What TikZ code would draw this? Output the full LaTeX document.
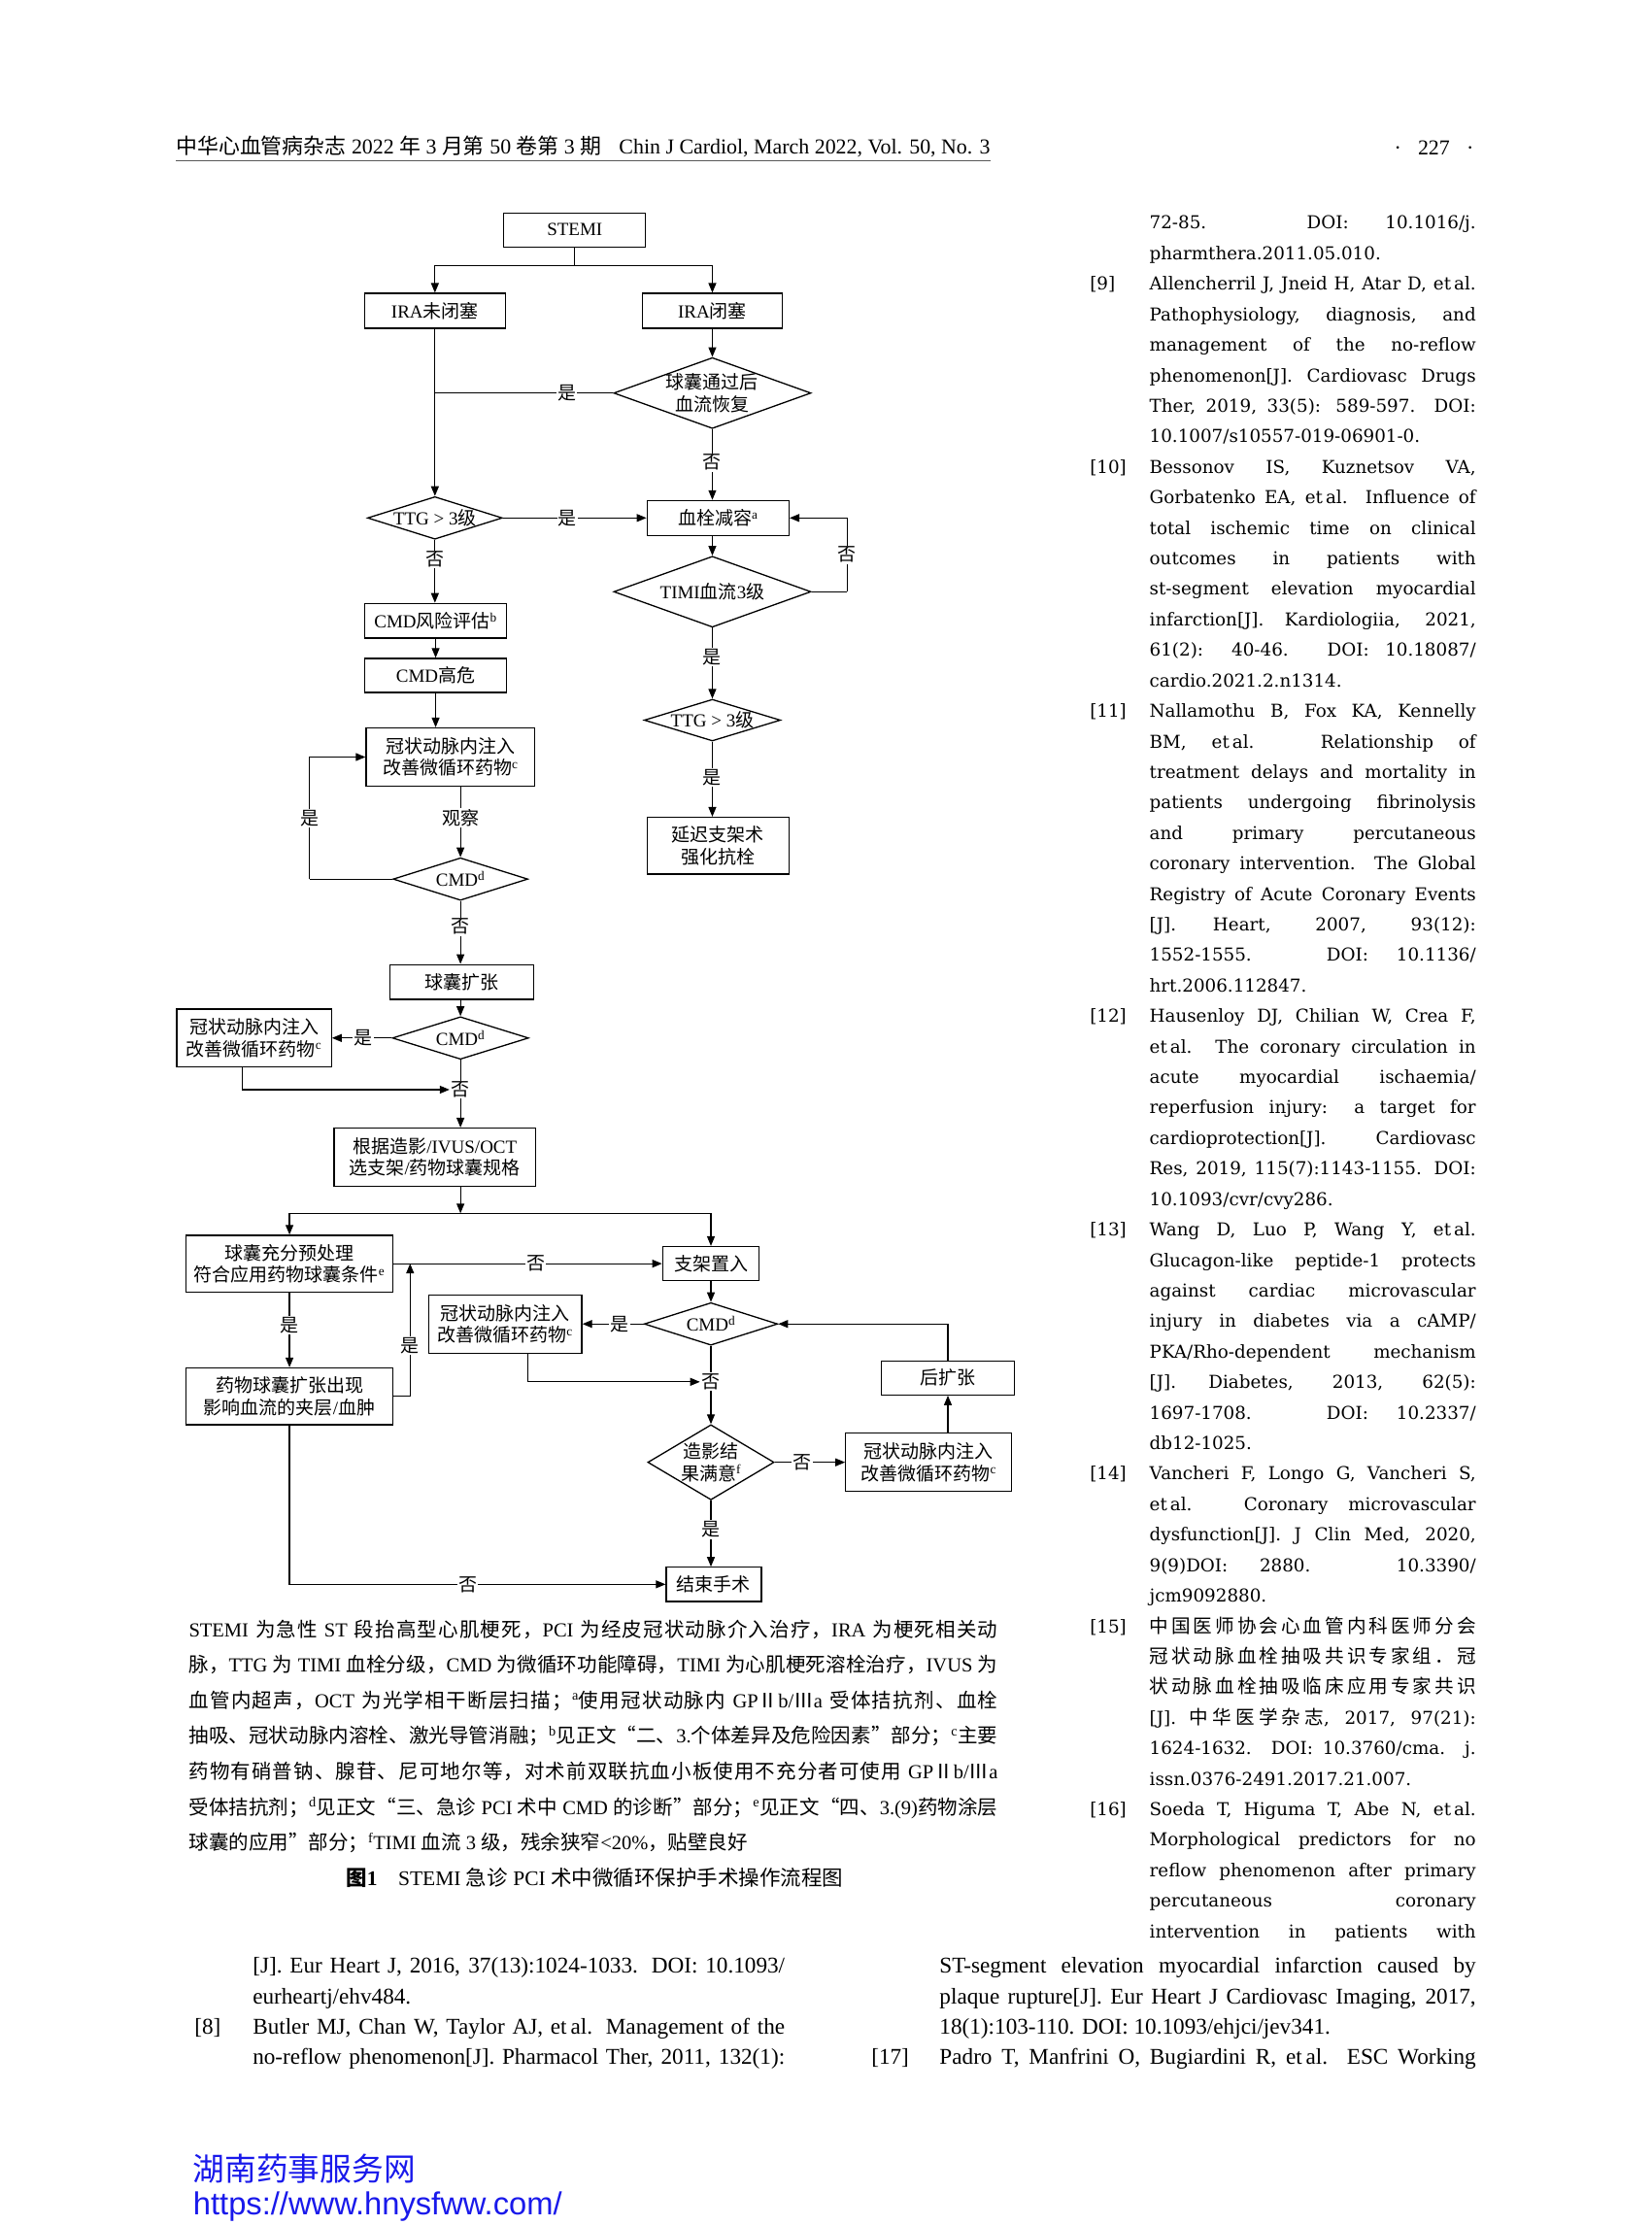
\documentclass[tikz,border=0pt]{standalone}
\usepackage{fontspec}
\setmainfont{Liberation Serif}
\newfontfamily\cjkf{Noto Sans CJK SC}
\newfontfamily\refsf{DejaVu Serif}
\newfontfamily\wmsans{Liberation Sans}
\usetikzlibrary{shapes.geometric,arrows.meta,calc}
\newlength\uu \setlength\uu{1.4613pt}
\def\latinsw{\rmfamily}
\def\cjksw{\cjkf}
\XeTeXinterchartokenstate=1
\chardef\cjkcls=23
\newcount\cc
\def\setcls#1#2{\cc=#1 \loop\XeTeXcharclass\cc=\cjkcls\relax\ifnum\cc<#2 \advance\cc by 1 \repeat}
\setcls{"4E00}{"9FFF}
\setcls{"3000}{"303F}
\setcls{"FF00}{"FFEF}
\setcls{"2160}{"217F}
\XeTeXcharclass"201C=\cjkcls
\XeTeXcharclass"201D=\cjkcls
\XeTeXinterchartoks 0 \cjkcls = {\cjksw}
\XeTeXinterchartoks 4095 \cjkcls = {\cjksw}
\XeTeXinterchartoks \cjkcls 0 = {\latinsw}
\XeTeXinterchartoks \cjkcls 4095 = {\latinsw}
\XeTeXinterchartoks \cjkcls \cjkcls = {\hskip0pt plus 1.5pt\relax}
\newcommand\sups[1]{\latinsw\textsuperscript{\latinsw #1}\latinsw}
\newcommand\ffont{\fontsize{19pt}{22.5pt}\selectfont}
\newcommand\capfont{\fontsize{20.5pt}{25pt}\selectfont}
\newcommand\hdfont{\fontsize{21.9pt}{26pt}\selectfont}
\newcommand\rfont{\def\latinsw{\refsf\fontsize{18.3pt}{21pt}\selectfont}\def\cjksw{\cjkf\fontsize{19.6pt}{21pt}\selectfont}\refsf\fontsize{18.3pt}{21pt}\selectfont}
\newcommand\btfont{\rmfamily\fontsize{23.2pt}{28pt}\selectfont}
\newcommand\wmfont{\fontsize{32.7pt}{36pt}\selectfont}
\definecolor{wmblue}{RGB}{25,25,235}
\tikzset{
  bx/.style={draw, line width=1.3pt, rectangle, inner sep=0pt, font=\ffont, align=center},
  sz/.style 2 args={minimum width=#1*\uu, minimum height=#2*\uu},
  dia/.style={draw, line width=1.3pt, diamond, inner sep=0pt},
  ftxt/.style={font=\ffont, align=center, inner sep=0pt},
  lab/.style={fill=white, inner sep=1.2pt, font=\ffont},
  ln/.style={line width=1.2pt},
  arr/.style={line width=1.2pt, -{Triangle[length=10pt,width=8pt]}},
  rtext/.style={anchor=base west, inner sep=0pt, font=\rfont},
  btext/.style={anchor=base west, inner sep=0pt, font=\btfont},
  ctext/.style={anchor=base west, inner sep=0pt, font=\capfont},
}
\newcommand\RJ[2]{\node[rtext] (rl#1) at (810,{161.5+21.5*#1}) {\makebox[230\uu][s]{#2}};}
\newcommand\RN[2]{\node[rtext] (rl#1) at (810,{161.5+21.5*#1}) {#2};}
\newcommand\RM[2]{\node[rtext] (rn#1) at (768,{161.5+21.5*#1}) {#2};}
\newcommand\CL[3]{\node[ctext] (cap#1) at (133,#2) {\makebox[570\uu][s]{#3}};}
\newcommand\gztxt{冠状动脉内注入\\改善微循环药物\sups{c}}
\begin{document}
\begin{tikzpicture}[x=\uu,y=-\uu]
\fill[white] (0,0) rectangle (1164,1568);
\useasboundingbox (0,0) rectangle (1164,1568);

% ---------- header ----------
\node[anchor=base west, inner sep=0pt, font=\hdfont] (hd1) at (124,108.5) {中华心血管病杂志 2022 年 3 月第 50 卷第 3 期};
\node[anchor=base east, inner sep=0pt, font=\hdfont] (hd2) at (698,108.5) {Chin J Cardiol, March 2022, Vol. 50, No. 3};
\draw[line width=1.3pt, black!65] (124,113.5) -- (698,113.5);
\node[anchor=base, inner sep=0pt, font=\hdfont] (pg) at (1010.5,109) {\makebox[56\uu][s]{\textperiodcentered\hfill 227\hfill\textperiodcentered}};

% ---------- flowchart ----------
\node[bx, sz={100}{24}] (stemi) at (405,162) {STEMI};
\node[bx, sz={99}{24.5}] (ira1) at (306.5,219) {IRA未闭塞};
\node[bx, sz={99}{24.5}] (ira2) at (502,219) {IRA闭塞};
\coordinate (j1) at (405,187);
\draw[ln] (stemi.south) -- (j1);
\draw[arr] (j1) -| (ira1.north);
\draw[arr] (j1) -| (ira2.north);

\node[dia, sz={139}{50}, label={[ftxt]center:{球囊通过后\\血流恢复}}] (d1) at (502,277) {};
\draw[arr] (ira2.south) -- (d1.north);
\node[dia, sz={95}{30}, label={[ftxt]center:{TTG > 3级}}] (t1) at (306.5,365) {};
\draw[arr] (ira1.south) -- (t1.north);
\draw[ln] (d1.west) -- (d1.west -| ira1.south) node[lab,pos=0.26] (l1) {是};

\node[bx, sz={100}{24.5}] (b1) at (506,365) {血栓减容\sups{a}};
\draw[arr] (t1.east) -- (t1.east -| b1.west) node[lab,pos=0.45] (l2) {是};
\draw[arr] (d1.south) -- (d1.south |- b1.north) node[lab,pos=0.47] (l3) {否};
\node[dia, sz={139}{50}, label={[ftxt]center:{TIMI血流3级}}] (d2) at (502,417) {};
\draw[arr] (b1.south -| d2.north) -- (d2.north);
\coordinate (lp) at (597,417);
\draw[ln] (d2.east) -- (lp);
\draw[arr] (lp) |- (b1.east) node[lab,pos=0.25] (l4) {否};
\node[dia, sz={96}{29.4}, label={[ftxt]center:{TTG > 3级}}] (t2) at (502,507.5) {};
\draw[arr] (d2.south) -- (t2.north) node[lab,pos=0.41] (l5) {是};
\node[bx, sz={100}{40}] (b2) at (506,596) {延迟支架术\\强化抗栓};
\draw[arr] (t2.south) -- (t2.south |- b2.north) node[lab,pos=0.48] (l6) {是};

\node[bx, sz={100}{24.5}] (c1) at (307,437.5) {CMD风险评估\sups{b}};
\draw[arr] (t1.south) -- (t1.south |- c1.north) node[lab,pos=0.31] (l7) {否};
\node[bx, sz={100}{24}] (c2) at (307,476) {CMD高危};
\draw[arr] (c1.south) -- (c2.north);
\node[bx, sz={119}{41}] (g1) at (317.5,533.5) {\gztxt};
\draw[arr] (c2.south) -- (c2.south |- g1.north);
\node[dia, sz={95}{30}, label={[ftxt]center:{CMD\sups{d}}}] (e1) at (324.5,619.5) {};
\draw[arr] (g1.south -| e1.north) -- (e1.north) node[lab,pos=0.44] (l8) {观察};
\coordinate (lq) at (218,619.5);
\draw[ln] (e1.west) -- (lq);
\draw[arr] (lq) |- (g1.west) node[lab,pos=0.25] (l9) {是};
\node[bx, sz={101}{24.5}] (q1) at (325.5,692) {球囊扩张};
\draw[arr] (e1.south) -- (e1.south |- q1.north) node[lab,pos=0.41] (l10) {否};
\node[dia, sz={96}{30}, label={[ftxt]center:{CMD\sups{d}}}] (e2) at (324.5,731.5) {};
\draw[arr] (e1.south |- q1.south) -- (e2.north);
\node[bx, sz={109}{41}] (g2) at (179,731.5) {\gztxt};
\draw[arr] (e2.west) -- (g2.east) node[lab,pos=0.48] (l11) {是};
\node[bx, sz={142}{41}] (r1) at (306.5,815.5) {根据造影/IVUS/OCT\\选支架/药物球囊规格};
\draw[arr] (e2.south) -- (e2.south |- r1.north) node[lab,pos=0.44] (l12) {否};
\draw[arr] ([xshift=-8.5*\uu]g2.south) |- (l12.west);

\coordinate (j2) at (324.5,855);
\draw[arr] (r1.south -| j2) -- (j2);
\node[bx, sz={145.5}{40}] (p1) at (204,890.5) {球囊充分预处理\\符合应用药物球囊条件\sups{e}};
\node[bx, sz={68}{24}] (s2) at (501,890.5) {支架置入};
\draw[arr] (j2) -| (p1.north);
\draw[arr] (j2) -| (s2.north);
\draw[arr] (p1.east) -- (s2.west) node[lab,pos=0.53] (l13) {否};
\node[bx, sz={145.5}{40}] (p2) at (204,984) {药物球囊扩张出现\\影响血流的夹层/血肿};
\draw[arr] (p1.south) -- (p2.north) node[lab,pos=0.44] (l14) {是};
\coordinate (j3) at (289,890.5);
\draw[arr] (p2.east) -| (j3) node[lab,pos=0.69] (l15) {是};
\node[bx, sz={108}{41}] (g3) at (356,933) {\gztxt};
\node[dia, sz={94}{30}, label={[ftxt]center:{CMD\sups{d}}}] (f1) at (501,933) {};
\draw[arr] (s2.south) -- (f1.north);
\draw[arr] (f1.west) -- (g3.east) node[lab,pos=0.39] (l16) {是};
\node[dia, sz={89}{53}, label={[ftxt]center:{造影结\\果满意\sups{f}}}] (z1) at (501,1030.5) {};
\draw[arr] (f1.south) -- (z1.north) node[lab,pos=0.46] (l17) {否};
\draw[arr] ([xshift=16*\uu]g3.south) |- (l17.west);
\node[bx, sz={117}{41}] (g4) at (654.5,1030.5) {\gztxt};
\draw[arr] (z1.east) -- (g4.west) node[lab,pos=0.39] (l18) {否};
\node[bx, sz={94}{24}] (h1) at (668,971) {后扩张};
\draw[arr] (h1.south |- g4.north) -- (h1.south);
\draw[arr] (h1.north) |- (f1.east);
\node[bx, sz={67}{24}] (fin) at (503,1116.5) {结束手术};
\draw[arr] (z1.south) -- (z1.south |- fin.north) node[lab,pos=0.44] (l19) {是};
\draw[arr] (p2.south) |- (fin.west) node[lab,pos=0.737] (l20) {否};

% ---------- caption ----------
\CL{1}{1153.5}{STEMI 为急性 ST 段抬高型心肌梗死，PCI 为经皮冠状动脉介入治疗，IRA 为梗死相关动}
\CL{2}{1178.5}{脉，TTG 为 TIMI 血栓分级，CMD 为微循环功能障碍，TIMI 为心肌梗死溶栓治疗，IVUS 为}
\CL{3}{1203.5}{血管内超声，OCT 为光学相干断层扫描；\sups{a}使用冠状动脉内 GPⅡb/Ⅲa 受体拮抗剂、血栓}
\CL{4}{1228.5}{抽吸、冠状动脉内溶栓、激光导管消融；\sups{b}见正文“二、3.个体差异及危险因素”部分；\sups{c}主要}
\CL{5}{1253.5}{药物有硝普钠、腺苷、尼可地尔等，对术前双联抗血小板使用不充分者可使用 GPⅡb/Ⅲa}
\CL{6}{1278.5}{受体拮抗剂；\sups{d}见正文“三、急诊 PCI 术中 CMD 的诊断”部分；\sups{e}见正文“四、3.(9)药物涂层}
\node[ctext] (cap7) at (133,1303.5) {球囊的应用”部分；\sups{f}TIMI 血流 3 级，残余狭窄<20\%，贴壁良好};
\node[anchor=base, inner sep=0pt, font=\fontsize{21.5pt}{26pt}\selectfont] (title) at (419,1329) {\textbf{图1}\hspace{1em}STEMI 急诊 PCI 术中微循环保护手术操作流程图};

% ---------- right column references ----------
\RJ{0}{72-85. DOI: 10.1016/j.}
\RN{1}{pharmthera.2011.05.010.}
\RM{2}{[9]}
\RJ{2}{Allencherril J, Jneid H, Atar D, et\,al.}
\RJ{3}{Pathophysiology, diagnosis, and}
\RJ{4}{management of the no-reflow}
\RJ{5}{phenomenon[J]. Cardiovasc Drugs}
\RJ{6}{Ther, 2019, 33(5): 589-597. DOI:}
\RN{7}{10.1007/s10557-019-06901-0.}
\RM{8}{[10]}
\RJ{8}{Bessonov IS, Kuznetsov VA,}
\RJ{9}{Gorbatenko EA, et\,al. Influence of}
\RJ{10}{total ischemic time on clinical}
\RJ{11}{outcomes in patients with}
\RJ{12}{st-segment elevation myocardial}
\RJ{13}{infarction[J]. Kardiologiia, 2021,}
\RJ{14}{61(2): 40-46. DOI: 10.18087/}
\RN{15}{cardio.2021.2.n1314.}
\RM{16}{[11]}
\RJ{16}{Nallamothu B, Fox KA, Kennelly}
\RJ{17}{BM, et\,al. Relationship of}
\RJ{18}{treatment delays and mortality in}
\RJ{19}{patients undergoing fibrinolysis}
\RJ{20}{and primary percutaneous}
\RJ{21}{coronary intervention. The Global}
\RJ{22}{Registry of Acute Coronary Events}
\RJ{23}{[J]. Heart, 2007, 93(12):}
\RJ{24}{1552-1555. DOI: 10.1136/}
\RN{25}{hrt.2006.112847.}
\RM{26}{[12]}
\RJ{26}{Hausenloy DJ, Chilian W, Crea F,}
\RJ{27}{et\,al. The coronary circulation in}
\RJ{28}{acute myocardial ischaemia/}
\RJ{29}{reperfusion injury: a target for}
\RJ{30}{cardioprotection[J]. Cardiovasc}
\RJ{31}{Res, 2019, 115(7):1143-1155. DOI:}
\RN{32}{10.1093/cvr/cvy286.}
\RM{33}{[13]}
\RJ{33}{Wang D, Luo P, Wang Y, et\,al.}
\RJ{34}{Glucagon-like peptide-1 protects}
\RJ{35}{against cardiac microvascular}
\RJ{36}{injury in diabetes via a cAMP/}
\RJ{37}{PKA/Rho-dependent mechanism}
\RJ{38}{[J]. Diabetes, 2013, 62(5):}
\RJ{39}{1697-1708. DOI: 10.2337/}
\RN{40}{db12-1025.}
\RM{41}{[14]}
\RJ{41}{Vancheri F, Longo G, Vancheri S,}
\RJ{42}{et\,al. Coronary microvascular}
\RJ{43}{dysfunction[J]. J Clin Med, 2020,}
\RJ{44}{9(9)DOI: 2880. 10.3390/}
\RN{45}{jcm9092880.}
\RM{46}{[15]}
\RJ{46}{中国医师协会心血管内科医师分会}
\RJ{47}{冠状动脉血栓抽吸共识专家组．冠}
\RJ{48}{状动脉血栓抽吸临床应用专家共识}
\RJ{49}{[J]. 中华医学杂志, 2017, 97(21):}
\RJ{50}{1624-1632. DOI: 10.3760/cma. j.}
\RN{51}{issn.0376-2491.2017.21.007.}
\RM{52}{[16]}
\RJ{52}{Soeda T, Higuma T, Abe N, et\,al.}
\RJ{53}{Morphological predictors for no}
\RJ{54}{reflow phenomenon after primary}
\RJ{55}{percutaneous coronary}
\RJ{56}{intervention in patients with}

% ---------- bottom references ----------
\node[btext] (bl1) at (178,1390.5) {\makebox[375\uu][s]{[J]. Eur Heart J, 2016, 37(13):1024-1033. DOI: 10.1093/}};
\node[btext] (bl2) at (178,1412) {eurheartj/ehv484.};
\node[btext] (bn8) at (137,1433.5) {[8]};
\node[btext] (bl3) at (178,1433.5) {\makebox[375\uu][s]{Butler MJ, Chan W, Taylor AJ, et\,al. Management of the}};
\node[btext] (bl4) at (178,1455) {\makebox[375\uu][s]{no-reflow phenomenon[J]. Pharmacol Ther, 2011, 132(1):}};
\node[btext] (br1) at (662,1390.5) {\makebox[378\uu][s]{ST-segment elevation myocardial infarction caused by}};
\node[btext] (br2) at (662,1412) {\makebox[378\uu][s]{plaque rupture[J]. Eur Heart J Cardiovasc Imaging, 2017,}};
\node[btext] (br3) at (662,1433.5) {18(1):103-110. DOI: 10.1093/ehjci/jev341.};
\node[btext] (bn17) at (614,1455) {[17]};
\node[btext] (br4) at (662,1455) {\makebox[378\uu][s]{Padro T, Manfrini O, Bugiardini R, et\,al. ESC Working}};

% ---------- watermark ----------
\node[anchor=base west, inner sep=0pt, text=wmblue, font=\wmfont] (wm1) at (136,1537) {湖南药事服务网};
\node[anchor=base west, inner sep=0pt, text=wmblue, font=\wmsans\wmfont] (wm2) at (136,1561) {https://www.hnysfww.com/};
\end{tikzpicture}
\end{document}
